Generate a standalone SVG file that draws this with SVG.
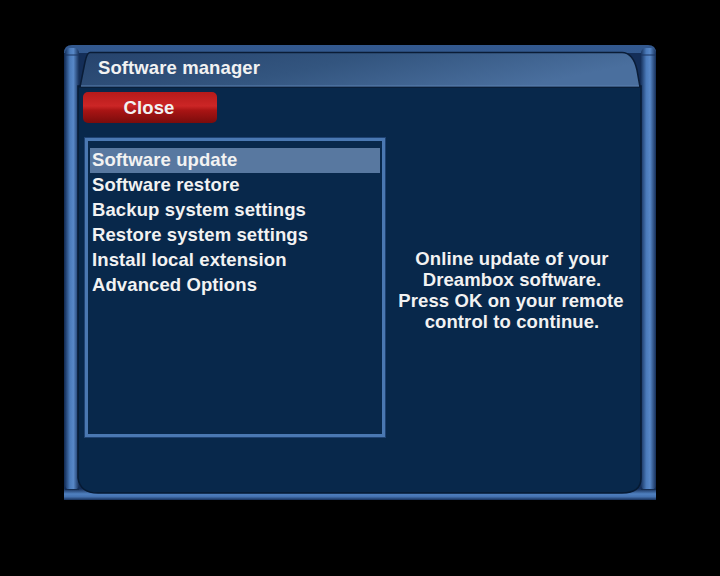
<svg xmlns="http://www.w3.org/2000/svg" width="720" height="576" viewBox="0 0 720 576">
  <defs>
    <linearGradient id="tubeV" x1="0" y1="0" x2="1" y2="0">
      <stop offset="0" stop-color="#183460"/>
      <stop offset="0.35" stop-color="#4a7aba"/>
      <stop offset="0.6" stop-color="#5888c8"/>
      <stop offset="1" stop-color="#162f58"/>
    </linearGradient>
    <linearGradient id="tubeH" x1="0" y1="0" x2="0" y2="1">
      <stop offset="0" stop-color="#162f58"/>
      <stop offset="0.45" stop-color="#4f80c0"/>
      <stop offset="0.7" stop-color="#4572b0"/>
      <stop offset="1" stop-color="#162f58"/>
    </linearGradient>
    <linearGradient id="frameTop" x1="0" y1="0" x2="0" y2="1">
      <stop offset="0" stop-color="#33598f"/>
      <stop offset="1" stop-color="#1a355f"/>
    </linearGradient>
    <linearGradient id="titleBar" x1="0" y1="0" x2="1" y2="0.3">
      <stop offset="0" stop-color="#26436c"/>
      <stop offset="0.5" stop-color="#33557f"/>
      <stop offset="1" stop-color="#4a6f9e"/>
    </linearGradient>
    <linearGradient id="redBtn" x1="0" y1="0" x2="0" y2="1">
      <stop offset="0" stop-color="#b51a1a"/>
      <stop offset="0.45" stop-color="#cc2626"/>
      <stop offset="0.6" stop-color="#a81414"/>
      <stop offset="1" stop-color="#7a0c0c"/>
    </linearGradient>
    <style>
      .t { font-family: "Liberation Sans", Arial, sans-serif; font-weight: bold; font-size: 18.5px; letter-spacing: 0.1px; fill: #f2f2f2; }
      .c { text-anchor: middle; }
    </style>
  </defs>

  <rect x="0" y="0" width="720" height="576" fill="#000000"/>

  <g id="window-frame">
    <path d="M72 45 H648 Q656 45 656 53 V500 H64 V53 Q64 45 72 45 Z" fill="url(#frameTop)"/>
    <rect x="64" y="53" width="592" height="440" fill="#142e58"/>
    <rect x="65" y="48" width="14" height="442" rx="5" fill="url(#tubeV)"/>
    <rect x="641" y="48" width="15" height="442" rx="5" fill="url(#tubeV)"/>
    <line x1="65" y1="55" x2="79" y2="55" stroke="#1a3560" stroke-width="1"/>
    <line x1="641" y1="55" x2="656" y2="55" stroke="#1a3560" stroke-width="1"/>
    <rect x="64" y="489" width="592" height="11" fill="url(#tubeH)"/>
    <line x1="65" y1="489.5" x2="79" y2="489.5" stroke="#142c50" stroke-width="1"/>
    <line x1="641" y1="489.5" x2="656" y2="489.5" stroke="#142c50" stroke-width="1"/>
  </g>

  <g id="panel">
    <path d="M78 86 H641 V478 Q641 493 622 493 H98 Q80 493 78 478 Z" fill="#08284b" stroke="#061a33" stroke-width="1.5"/>
  </g>

  <g id="title-bar">
    <path d="M90 52.5 H622 Q633 52.5 637 70 L640 87 H80 L85 62 Q87 52.5 90 52.5 Z" fill="url(#titleBar)" stroke="#0a1c36" stroke-width="1.5"/>
    <line x1="81" y1="86" x2="639" y2="86" stroke="#5a80b0" stroke-width="1"/>
    <text class="t" x="98" y="73.5">Software manager</text>
  </g>

  <g id="close-button">
    <rect x="83" y="92" width="134" height="31" rx="5" fill="url(#redBtn)"/>
    <text class="t c" x="149" y="114">Close</text>
  </g>

  <g id="menu-list">
    <rect x="86.5" y="139.5" width="297" height="296" fill="#08284b" stroke="#4a78b2" stroke-width="3"/>
    <rect x="84.5" y="137.5" width="301" height="300" fill="none" stroke="#1e4272" stroke-width="1"/>
    <rect x="90" y="148" width="290" height="25" fill="#5878a0"/>
    <text class="t" x="92" y="166">Software update</text>
    <text class="t" x="92" y="191">Software restore</text>
    <text class="t" x="92" y="216">Backup system settings</text>
    <text class="t" x="92" y="241">Restore system settings</text>
    <text class="t" x="92" y="266">Install local extension</text>
    <text class="t" x="92" y="291">Advanced Options</text>
  </g>

  <g id="description">
    <text class="t c" x="512" y="265">Online update of your</text>
    <text class="t c" x="512" y="286">Dreambox software.</text>
    <text class="t c" x="511" y="307">Press OK on your remote</text>
    <text class="t c" x="512" y="328">control to continue.</text>
  </g>
</svg>
